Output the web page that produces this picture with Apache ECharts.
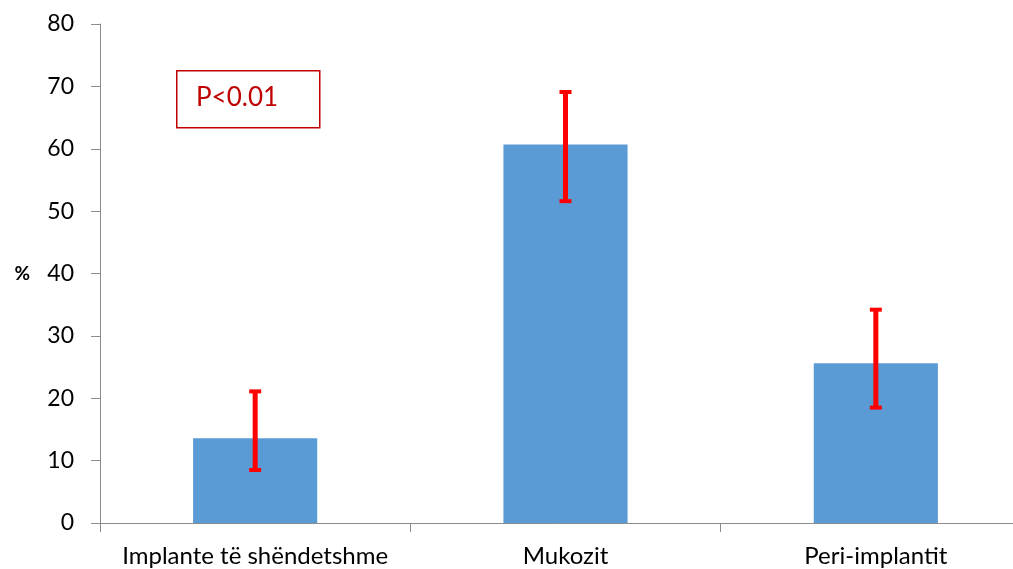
<!DOCTYPE html>
<html>
<head>
<meta charset="utf-8">
<script src="https://cdn.jsdelivr.net/npm/echarts@6/dist/echarts.min.js"></script>
<style>
html,body{margin:0;padding:0;background:#fff;}
#chart{width:1013px;height:569px;}
</style>
</head>
<body>
<div id="chart"></div>
<script>
// Categories and measured percentages with error ranges
const categories = ['Implante të shëndetshme', 'Mukozit', 'Peri-implantit'];
const values = [13.6, 60.7, 25.6];
const errLow = [8.5, 51.6, 18.5];
const errHigh = [21.1, 69.1, 34.2];
const yTicks = [0, 10, 20, 30, 40, 50, 60, 70, 80];
const noteText = 'P<0.01';

const FONT = 'Lato, "Open Sans", sans-serif';
const axisGray = '#8c8c8c';

const chart = echarts.init(document.getElementById('chart'));

const errData = categories.map((c, i) => [i, errLow[i], errHigh[i]]);

chart.setOption({
  animation: false,
  backgroundColor: '#fff',
  // the last category runs past the right edge of the canvas
  grid: { left: 100, width: 931, top: 24, bottom: 46, outerBoundsMode: 'none', containLabel: false },
  xAxis: {
    type: 'category',
    data: categories,
    axisLine: { lineStyle: { color: axisGray, width: 1 } },
    axisTick: { show: true, length: 9, alignWithLabel: false, lineStyle: { color: axisGray } },
    axisLabel: { color: '#000', fontSize: 24, fontFamily: FONT, margin: 21, interval: 0 }
  },
  yAxis: {
    type: 'value',
    min: yTicks[0],
    max: yTicks[yTicks.length - 1],
    interval: 10,
    name: '%',
    nameLocation: 'middle',
    nameRotate: 0,
    nameGap: 70,
    nameTextStyle: { color: '#000', fontSize: 19, fontWeight: 'bold', fontFamily: FONT },
    axisLine: { show: true, lineStyle: { color: axisGray, width: 1 } },
    axisTick: { show: true, length: 9, lineStyle: { color: axisGray } },
    splitLine: { show: false },
    axisLabel: { color: '#000', fontSize: 23, fontFamily: FONT, margin: 26 }
  },
  series: [
    {
      type: 'bar',
      data: values,
      barWidth: '40%',
      itemStyle: { color: '#5b9bd5' }
    },
    {
      type: 'custom',
      data: errData,
      z: 10,
      renderItem: function (params, api) {
        const x = api.value(0);
        const lo = api.coord([x, api.value(1)]);
        const hi = api.coord([x, api.value(2)]);
        const half = 6;
        const style = { stroke: '#ff0000', lineWidth: 5 };
        const capStyle = { stroke: '#ff0000', lineWidth: 4 };
        return {
          type: 'group',
          children: [
            { type: 'line', shape: { x1: hi[0], y1: hi[1], x2: lo[0], y2: lo[1] }, style: style },
            { type: 'line', shape: { x1: hi[0] - half, y1: hi[1], x2: hi[0] + half, y2: hi[1] }, style: capStyle },
            { type: 'line', shape: { x1: lo[0] - half, y1: lo[1], x2: lo[0] + half, y2: lo[1] }, style: capStyle }
          ]
        };
      }
    }
  ],
  graphic: [
    {
      type: 'rect',
      left: 176, top: 70,
      shape: { width: 143, height: 57 },
      style: { fill: '#fff', stroke: '#c00000', lineWidth: 1.5 }
    },
    {
      type: 'text',
      left: 196, top: 85,
      style: { text: noteText, fill: '#c00000', font: '26px ' + FONT }
    }
  ]
});
</script>
</body>
</html>
